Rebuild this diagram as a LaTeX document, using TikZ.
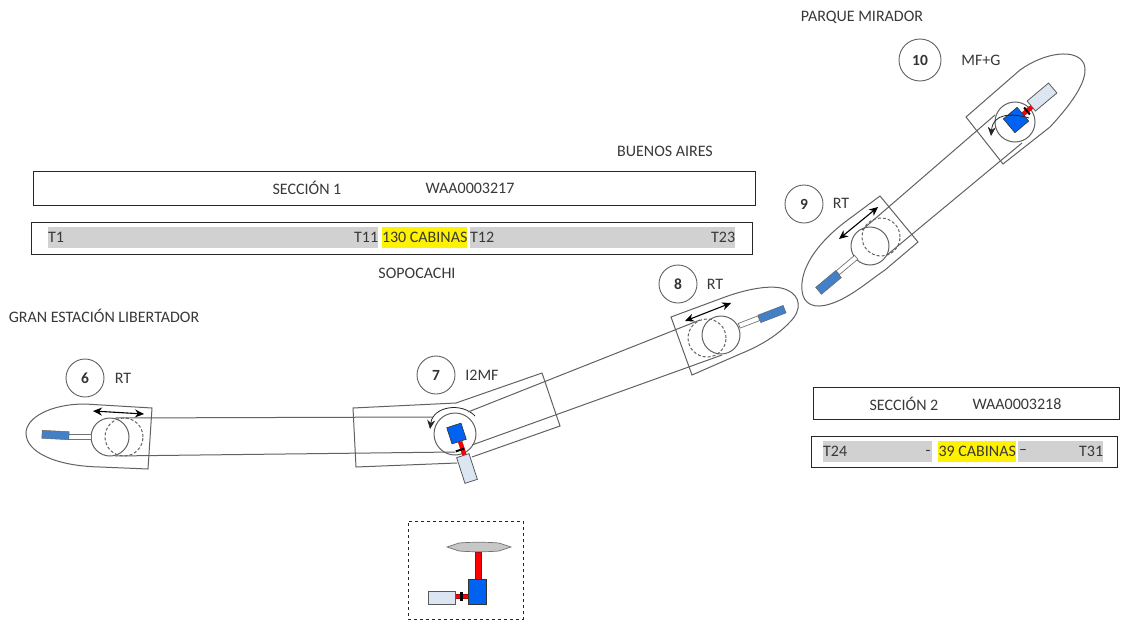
\documentclass[tikz,border=0pt]{standalone}
\usepackage{fontspec}
\setmainfont{Carlito}
\usetikzlibrary{arrows.meta}
\definecolor{motorblue}{HTML}{4480C8}
\definecolor{driveblue}{HTML}{0062F0}
\definecolor{boxblue}{HTML}{DCE6F2}

\begin{document}
\begin{tikzpicture}[
    x=1pt,y=-1pt,
    trackline/.style={draw=black!62,line width=1pt},
    boxframe/.style={draw=black!85,line width=0.9pt,inner sep=0pt,rectangle},
    txt/.style={font=\fontsize{16}{18}\selectfont,text=black!78,inner sep=0pt},
    num/.style={circle,draw=black!62,line width=0.9pt,minimum size=38pt,inner sep=0pt,
                font=\fontsize{15.5}{18}\selectfont\bfseries,text=black!80},
    wheel/.style={circle,draw=black!62,line width=1pt,minimum size=38pt,inner sep=0pt},
    ghost/.style={wheel,densely dashed},
    motor/.style={rectangle,draw=black!60,fill=motorblue,line width=0.5pt,inner sep=0pt},
    drive/.style={rectangle,draw=black!80,fill=driveblue,line width=0.6pt,inner sep=0pt},
    gearbox/.style={rectangle,draw=black!65,fill=boxblue,line width=0.8pt,inner sep=0pt},
    rod/.style={rectangle,draw=black!55,fill=white,line width=0.7pt,inner sep=0pt},
    shaft/.style={rectangle,draw=red!70!black,fill=red,line width=0.3pt,inner sep=0pt},
    clamp/.style={rectangle,fill=black,inner sep=0pt},
    travel/.style={{Stealth[length=9pt,width=8pt]}-{Stealth[length=9pt,width=8pt]},line width=1.1pt,black},
    spin/.style={-{Stealth[length=9pt,width=8pt]},line width=0.8pt,black!85},
    band/.style={rectangle,fill=black!18,inner sep=0pt,minimum height=21pt,anchor=west},
    hilite/.style={rectangle,fill=yellow,inner sep=0pt,minimum height=21pt,anchor=west}
]
\useasboundingbox (0,0) rectangle (1128,624);

% site names
\node[txt] (mirador) at (862,17) {PARQUE MIRADOR};
\node[txt] (aires) at (665,151) {BUENOS AIRES};
\node[txt] (sopocachi) at (417,273) {SOPOCACHI};
\node[txt] (libertador) at (104,316) {GRAN ESTACIÓN LIBERTADOR};

% section 1
\node[boxframe,minimum width=722pt,minimum height=34pt,anchor=north west] (sec1) at (33,171) {};
\node[txt] (sec1name) at (307,188) {SECCIÓN 1};
\node[txt] (sec1code) at (470,188) {WAA0003217};
\node[boxframe,minimum width=721pt,minimum height=32pt,anchor=north west] (row1) at (31,222) {};
\node[band,minimum width=330pt] (band1a) at (48,237.5) {};
\node[hilite,minimum width=85pt] (hilite1) at (382,237.5) {};
\node[band,minimum width=265pt] (band1b) at (470,237.5) {};
\node[txt,anchor=west] (t1) at (band1a.west) {T1};
\node[txt,anchor=east] (t11) at (band1a.east) {T11};
\node[txt] (cab1) at (hilite1.center) {130 CABINAS};
\node[txt,anchor=west] (t12) at (band1b.west) {T12};
\node[txt,anchor=east] (t23) at (band1b.east) {T23};

% section 2
\node[boxframe,minimum width=306pt,minimum height=32pt,anchor=north west] (sec2) at (813,387) {};
\node[txt] (sec2name) at (904,404) {SECCIÓN 2};
\node[txt] (sec2code) at (1017,404) {WAA0003218};
\node[boxframe,minimum width=306pt,minimum height=31pt,anchor=north west] (row2) at (811,436) {};
\node[band,minimum width=109pt] (band2a) at (823,451.5) {};
\node[hilite,minimum width=78pt] (hilite2) at (938,451.5) {};
\node[band,minimum width=85pt] (band2b) at (1018,451.5) {};
\node[txt,anchor=west] (t24) at (band2a.west) {T24};
\node[txt] (dash2a) at (928,452.5) {-};
\node[txt] (cab2) at (hilite2.center) {39 CABINAS};
\node[txt] (dash2b) at (1023,452.5) {--};
\node[txt,anchor=east] (t31) at (band2b.east) {T31};

% numbers
\node[num] (n6) at (85,378) {6};
\node[num] (n7) at (436,375) {7};
\node[num] (n8) at (678,284) {8};
\node[num] (n9) at (804,204) {9};
\node[num,minimum size=42pt] (n10) at (920,60) {10};
\node[txt] (l6) at (123,378) {RT};
\node[txt] (l7) at (482,375) {I2MF};
\node[txt] (l8) at (715,284) {RT};
\node[txt] (l9) at (841,203) {RT};
\node[txt] (l10) at (981,60) {MF+G};

% station 6
\draw[trackline] (152,408) -- (85,404) .. controls (50,404) and (26,418) .. (26,433)
    .. controls (26,452) and (55,466) .. (100,467) -- (148,469) -- cycle;
\node[wheel] (w6) at (110,437) {};
\node[ghost] (g6) at (124,437) {};
\node[rod,minimum width=23pt,minimum height=5pt] (r6) at (80,436.5) {};
\node[motor,minimum width=27pt,minimum height=8pt,rotate=-3] (m6) at (55.5,435) {};
\draw[travel] (93,411) -- (144,414);

% station 7
\draw[trackline] (542,373) -- (456,403) -- (353,408) -- (356,467) -- (457,463);
\draw[trackline] (542,373) -- (560,426) -- (472,457);
\node[wheel,minimum size=42pt] (w7) at (455,434) {};
\node[shaft,minimum width=15pt,minimum height=4pt,rotate=-72] (s7) at (462.5,449) {};
\node[clamp,minimum width=9pt,minimum height=2pt,rotate=18] (clamp7) at (460,450) {};
\node[drive,minimum width=15pt,minimum height=17pt,rotate=18] (d7) at (456.5,433.5) {};
\node[gearbox,minimum width=13pt,minimum height=27pt,rotate=18] (box7) at (467,468.5) {};
\coordinate (t7a) at (475,416);
\coordinate (t7b) at (430,429);
\draw[spin] (t7a) .. controls (462,402) and (433,406) .. (t7b);

% station 8
\draw[trackline] (671,317) -- (725,297) .. controls (750,288) and (775,284) .. (787,290)
    .. controls (801,296) and (802,310) .. (790,322) .. controls (775,338) and (755,348) .. (740,354)
    -- (692,375) -- cycle;
\node[wheel] (w8) at (721,335) {};
\node[ghost] (g8) at (707,338) {};
\node[rod,minimum width=21pt,minimum height=5pt,rotate=21] (r8) at (749,322) {};
\node[motor,minimum width=27pt,minimum height=8pt,rotate=21] (m8) at (772,314) {};
\draw[travel] (685,321) -- (731,303);

% station 9
\draw[trackline] (880,196) -- (845,222) .. controls (815,245) and (800,270) .. (802,290)
    .. controls (803,305) and (815,309) .. (830,304) .. controls (850,298) and (870,280) .. (885,270)
    -- (918,242) -- cycle;
\node[wheel] (w9) at (870,246) {};
\node[ghost] (g9) at (881,237) {};
\node[rod,minimum width=24pt,minimum height=5pt,rotate=40] (r9) at (847,265) {};
\node[motor,minimum width=26pt,minimum height=9pt,rotate=40] (m9) at (828.5,282.5) {};
\draw[travel] (839,239) -- (878,207);

% station 10
\draw[trackline] (966,117) -- (1020,70) .. controls (1045,52) and (1077,48) .. (1084,64)
    .. controls (1089,78) and (1075,100) .. (1050,127) -- (1003,164) -- cycle;
\node[wheel,minimum size=40pt] (w10) at (1015,122) {};
\node[shaft,minimum width=17pt,minimum height=4pt,rotate=40] (s10) at (1027.5,110.5) {};
\node[clamp,minimum width=9pt,minimum height=2pt,rotate=-50] (clamp10) at (1027,111) {};
\node[drive,minimum width=18pt,minimum height=18pt,rotate=40] (d10) at (1016,120) {};
\node[gearbox,minimum width=28pt,minimum height=13pt,rotate=40] (box10) at (1042,97) {};
\coordinate (t10a) at (1029,118);
\coordinate (t10b) at (991,136);
\draw[spin] (t10a) .. controls (1012,113) and (993,113) .. (t10b);

% track cables
\coordinate (a6) at (115,418);
\coordinate (b6) at (115,456);
\coordinate (a7) at (433,417);
\coordinate (b7) at (455,452);
\coordinate (c7) at (468,412);
\coordinate (e7) at (472,445);
\coordinate (a8) at (700,320);
\coordinate (b8) at (722,355);
\coordinate (a9) at (862,230);
\coordinate (b9) at (887,255);
\coordinate (a10) at (995,115);
\coordinate (b10) at (1022,143);
\draw[trackline] (a6) -- (a7);
\draw[trackline] (b6) -- (b7);
\draw[trackline] (c7) -- (a8);
\draw[trackline] (e7) -- (b8);
\draw[trackline] (a9) -- (a10);
\draw[trackline] (b9) -- (b10);

% legend
\node[rectangle,draw=black!85,dashed,line width=0.9pt,minimum width=115pt,minimum height=98pt,anchor=north west] (legend) at (408,521) {};
\node[shaft,minimum width=6pt,minimum height=27pt] (upshaft) at (478,565.5) {};
\node[shaft,minimum width=13pt,minimum height=4pt] (sideshaft) at (461.5,596.5) {};
\node[clamp,minimum width=3pt,minimum height=9pt] (clampL) at (461,596.5) {};
\node[drive,minimum width=18pt,minimum height=25pt] (driveL) at (477,591.5) {};
\node[gearbox,minimum width=27pt,minimum height=13pt] (boxL) at (441.5,597.5) {};
\draw[draw=black!55,fill=black!22,line width=0.7pt] (447,547) -- (459,543) .. controls (470,542) and (488,542) .. (499,543)
    -- (511,547) -- (499,551) .. controls (488,552) and (470,552) .. (459,551) -- cycle;
\end{tikzpicture}
\end{document}
